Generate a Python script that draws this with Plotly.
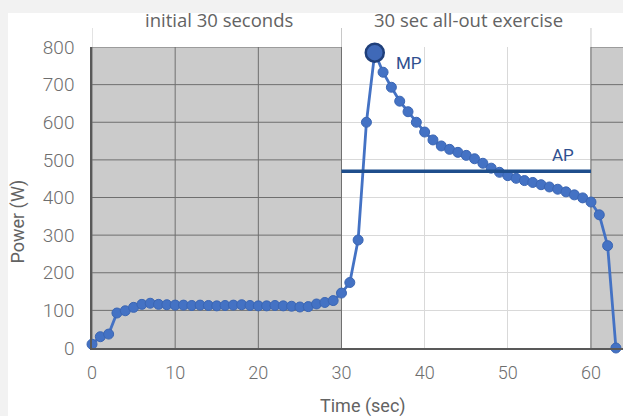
import plotly.graph_objects as go

# Wingate-style power trace: 30 s warm-up followed by a 30 s all-out sprint
time_s = list(range(0, 64))
power_w = [
    10, 30, 37, 93, 99, 108, 116, 119, 116, 115,
    114, 114, 113, 114, 113, 112, 113, 114, 115, 113,
    112, 112, 113, 112, 111, 109, 110, 117, 121, 126,
    146, 174, 287, 600, 785, 733, 693, 656, 628, 600,
    574, 553, 537, 528, 520, 512, 503, 491, 478, 467,
    458, 451, 445, 440, 434, 428, 422, 415, 407, 399,
    388, 354, 272, 0,
]
phase_labels = ["initial 30 seconds", "30 sec all-out exercise"]
phase_bounds = [0, 30, 60]
avg_power = 470
x_ticks = [0, 10, 20, 30, 40, 50, 60]
y_ticks = [0, 100, 200, 300, 400, 500, 600, 700, 800]

X_MAX = 63.85
Y_MAX = 800
BLUE = "#4472C4"
NAVY = "#2F4F8F"
TEXT = "#636363"
FONT = "Roboto"

peak_i = max(range(len(power_w)), key=lambda i: power_w[i])

fig = go.Figure()

fig.add_trace(go.Scatter(
    x=time_s, y=power_w, mode="lines+markers",
    line=dict(color=BLUE, width=2.8),
    marker=dict(color=BLUE, size=10, line=dict(color="#3B66B3", width=1)),
    hoverinfo="x+y", showlegend=False, cliponaxis=False,
))
# average power over the sprint
fig.add_trace(go.Scatter(
    x=[phase_bounds[1], phase_bounds[2]], y=[avg_power, avg_power],
    mode="lines", line=dict(color="#1F4E8C", width=3.5),
    showlegend=False, hoverinfo="skip",
))
# peak power
fig.add_trace(go.Scatter(
    x=[time_s[peak_i]], y=[power_w[peak_i]], mode="markers",
    marker=dict(color="#3F69B8", size=18, line=dict(color="#1F3F7A", width=2.5)),
    showlegend=False, hoverinfo="x+y", cliponaxis=False,
))

shapes = []
# page frame
shapes.append(dict(type="rect", xref="paper", yref="paper",
                   x0=-84 / 531, x1=1.01, y0=-80 / 301, y1=1 + 34 / 301,
                   fillcolor="white", line=dict(width=0), layer="below"))
# grey shading for warm-up and recovery phases
for x0, x1 in [(0, 30), (60, X_MAX)]:
    shapes.append(dict(type="rect", xref="x", yref="y", x0=x0, x1=x1, y0=0, y1=Y_MAX,
                       fillcolor="#CBCBCB", line=dict(width=0), layer="between"))
    for yv in y_ticks[1:]:
        shapes.append(dict(type="line", xref="x", yref="y", x0=x0, x1=x1, y0=yv, y1=yv,
                           line=dict(color="#6F6F6F", width=1), layer="between"))
    for xv in x_ticks:
        if x0 <= xv <= x1:
            shapes.append(dict(type="line", xref="x", yref="y", x0=xv, x1=xv, y0=0, y1=Y_MAX,
                               line=dict(color="#6F6F6F", width=1), layer="between"))
# phase separators above the plot
for xb in phase_bounds:
    shapes.append(dict(type="line", xref="x", yref="paper", x0=xb, x1=xb,
                       y0=1.0, y1=1 + 19 / 301, line=dict(color="#C8C8C8", width=1)))

annotations = []
for i, lab in enumerate(phase_labels):
    annotations.append(dict(
        x=(phase_bounds[i] + phase_bounds[i + 1]) / 2 + 0.3, y=1 + 27 / 301,
        xref="x", yref="paper", text=lab, showarrow=False,
        font=dict(family="Open Sans", size=18.5, color=TEXT), xanchor="center", yanchor="middle"))
annotations.append(dict(x=time_s[peak_i] + 2.3, y=power_w[peak_i] - 28, xref="x", yref="y",
                        text="MP", showarrow=False, xanchor="left", yanchor="middle",
                        font=dict(family=FONT, size=17, color=NAVY)))
annotations.append(dict(x=56.6, y=avg_power + 11, xref="x", yref="y",
                        text="AP", showarrow=False, xanchor="center", yanchor="bottom",
                        font=dict(family=FONT, size=17, color=NAVY)))
annotations.append(dict(x=0.51, y=-58 / 301, xref="paper", yref="paper",
                        text="Time (sec)", showarrow=False, xanchor="center", yanchor="middle",
                        font=dict(family=FONT, size=18, color=TEXT)))
annotations.append(dict(x=-74 / 531, y=0.42, xref="paper", yref="paper",
                        text="Power (W)", showarrow=False, textangle=-90,
                        xanchor="center", yanchor="middle",
                        font=dict(family=FONT, size=18, color=TEXT)))

fig.update_layout(
    width=623, height=416,
    margin=dict(l=92, r=0, t=47, b=68, pad=0),
    paper_bgcolor="#F2F2F2", plot_bgcolor="white",
    shapes=shapes, annotations=annotations,
    xaxis=dict(range=[0, X_MAX], tickvals=x_ticks, showgrid=True, gridcolor="#D9D9D9",
               gridwidth=1, zeroline=False, showline=True, linecolor="#595959", linewidth=1.5,
               ticks="", ticklabelstandoff=8,
               tickfont=dict(family=FONT, size=18, color="#6E6E6E", weight=300)),
    yaxis=dict(range=[0, Y_MAX], tickvals=y_ticks, showgrid=True, gridcolor="#D9D9D9",
               gridwidth=1, zeroline=False, showline=True, linecolor="#595959", linewidth=1.5,
               ticks="", ticklabelstandoff=12,
               tickfont=dict(family=FONT, size=19, color="#6E6E6E", weight=300)),
)

fig.write_html("out.html")
